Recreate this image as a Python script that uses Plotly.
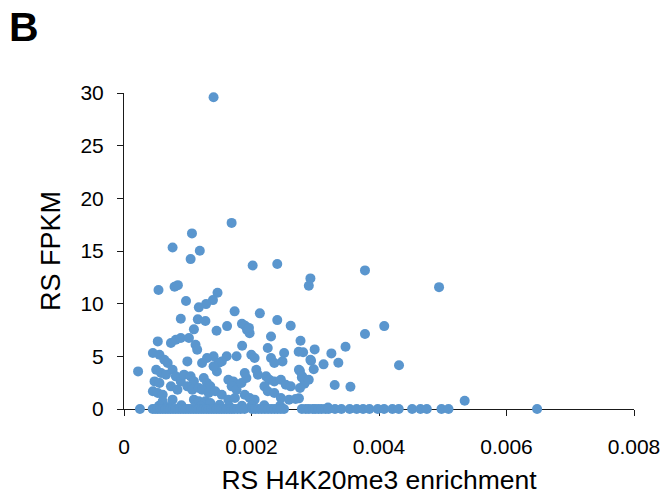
import plotly.graph_objects as go

# RS H4K20me3 enrichment (x) versus RS FPKM (y), one marker per gene
enrich_pos = [
    0.001405, 0.001688, 0.001066, 0.000762, 0.001189, 0.001045, 0.002018, 0.002404,
    0.002924, 0.002899, 0.000541, 0.000793, 0.000845, 0.000973, 0.001467, 0.001395,
    0.001287, 0.001174, 0.000891, 0.001158, 0.001277, 0.001735, 0.002131, 0.002404,
    0.002615, 0.001097, 0.001452, 0.001617, 0.001850, 0.001900, 0.001930, 0.001970,
    0.001960, 0.003780, 0.004942, 0.004082, 0.003780, 0.003475, 0.003253, 0.002991,
    0.002769, 0.002810, 0.002740, 0.002934, 0.003130, 0.003362, 0.002976, 0.002760,
    0.002790, 0.002830, 0.002760, 0.004314, 0.003305, 0.003552, 0.002744, 0.005344,
    0.000221, 0.000530, 0.000736, 0.000813, 0.000891, 0.001019, 0.001122, 0.001148,
    0.000453, 0.000556, 0.001853, 0.002255, 0.001997, 0.002049, 0.002512, 0.001766,
    0.001611, 0.001534, 0.001405, 0.001302, 0.001225, 0.000994, 0.000633, 0.000685,
    0.000505, 0.000582, 0.000659, 0.000479, 0.000556, 0.000453, 0.000530, 0.000607,
    0.000762, 0.000813, 0.000891, 0.000736, 0.000839, 0.000942, 0.001045, 0.001097,
    0.000994, 0.001071, 0.001174, 0.001251, 0.001302, 0.001354, 0.001457, 0.001483,
    0.001405, 0.001225, 0.001328, 0.001431, 0.001534, 0.001637, 0.001714, 0.001689,
    0.001766, 0.001637, 0.001740, 0.001843, 0.001920, 0.001894, 0.002075, 0.002100,
    0.002229, 0.002281, 0.002358, 0.002461, 0.002538, 0.002615, 0.002203, 0.002255,
    0.002358, 0.002306, 0.002358, 0.002486, 0.001894, 0.001972, 0.002049, 0.002461,
    0.002589, 0.002692, 0.002744, 0.002795, 0.002898, 0.002924, 0.000607, 0.000762,
    0.001097, 0.001174, 0.001277, 0.001354, 0.002306, 0.000550, 0.000900, 0.001200,
    0.001500, 0.001850, 0.002200, 0.002450, 0.003200, 0.000700, 0.001650, 0.002000,
]
fpkm_pos = [
    29.60, 17.67, 16.67, 15.34, 15.02, 14.23, 13.63, 13.76,
    12.40, 11.70, 11.29, 11.60, 11.76, 10.25, 11.03, 10.34,
    9.96, 9.65, 8.57, 8.51, 8.35, 9.27, 9.08, 8.44,
    7.90, 7.56, 7.43, 7.87, 8.10, 7.90, 7.50, 7.20,
    7.70, 13.16, 11.57, 7.87, 7.12, 5.91, 5.28, 5.66,
    6.48, 5.38, 5.44, 4.58, 4.24, 4.39, 3.77, 3.60,
    3.00, 2.40, 2.00, 4.15, 2.28, 2.12, 1.01, 0.79,
    3.57, 6.42, 6.26, 6.58, 6.74, 6.74, 6.10, 5.63,
    5.31, 5.15, 6.01, 5.79, 5.15, 4.84, 5.31, 5.00,
    5.00, 4.52, 5.00, 4.84, 4.36, 4.52, 4.68, 4.36,
    3.73, 3.42, 3.26, 2.62, 2.47, 1.68, 1.52, 1.36,
    3.73, 3.10, 2.62, 2.15, 1.83, 3.26, 3.10, 2.62,
    2.15, 1.83, 1.99, 2.94, 2.47, 2.15, 3.57, 4.36,
    4.05, 1.83, 1.52, 1.68, 1.36, 2.78, 2.62, 2.15,
    1.83, 0.89, 1.04, 2.47, 2.94, 3.42, 3.73, 3.26,
    3.10, 2.78, 2.62, 2.78, 2.31, 2.15, 2.15, 1.68,
    1.52, 4.84, 4.36, 4.52, 1.36, 1.04, 0.89, 1.04,
    0.89, 0.95, 3.73, 3.10, 2.78, 4.68, 0.73, 0.89,
    0.89, 0.73, 0.73, 0.57, 6.89, 0.30, 0.35, 0.25,
    0.40, 0.30, 0.35, 0.30, 0.15, 0.20, 0.25, 0.30,
]

# genes with no detectable expression
enrich_zero = [
    0.000250, 0.000450, 0.000490, 0.000530, 0.000570, 0.000610, 0.000650, 0.000690,
    0.000730, 0.000770, 0.000810, 0.000850, 0.000890, 0.000930, 0.000970, 0.001010,
    0.001050, 0.001090, 0.001130, 0.001170, 0.001210, 0.001250, 0.001290, 0.001330,
    0.001370, 0.001410, 0.001450, 0.001490, 0.001530, 0.001570, 0.001610, 0.001650,
    0.001690, 0.001730, 0.001780, 0.001830, 0.001890, 0.002010, 0.002060, 0.002110,
    0.002160, 0.002210, 0.002260, 0.002310, 0.002360, 0.002410, 0.002460, 0.002510,
    0.002790, 0.002850, 0.002900, 0.002960, 0.003000, 0.003050, 0.003100, 0.003160,
    0.003210, 0.003310, 0.003410, 0.003540, 0.003650, 0.003750, 0.003850, 0.003980,
    0.004080, 0.004210, 0.004310, 0.004520, 0.004650, 0.004750, 0.004980, 0.005090,
    0.006480,
]
fpkm_zero = [0.0] * len(enrich_zero)

x_vals = enrich_pos + enrich_zero
y_vals = fpkm_pos + fpkm_zero

x_ticks = [0, 0.002, 0.004, 0.006, 0.008]
x_tick_text = ["0", "0.002", "0.004", "0.006", "0.008"]
y_ticks = [0, 5, 10, 15, 20, 25, 30]

FONT = "Liberation Sans, Arial, sans-serif"
DOT = "#5A96CE"

fig = go.Figure(
    go.Scatter(
        x=x_vals,
        y=y_vals,
        mode="markers",
        marker=dict(size=10, color=DOT, line=dict(width=0)),
        cliponaxis=False,
        hoverinfo="x+y",
    )
)

axis_common = dict(
    showgrid=False,
    zeroline=False,
    showline=True,
    linecolor="#1a1a1a",
    linewidth=1,
    ticks="outside",
    ticklen=6,
    tickwidth=1,
    tickcolor="#1a1a1a",
    tickfont=dict(family=FONT, size=21, color="#000"),
    layer="below traces",
)

fig.update_layout(
    width=672,
    height=503,
    margin=dict(l=124, r=30, t=93, b=94),
    paper_bgcolor="white",
    plot_bgcolor="white",
    showlegend=False,
    font=dict(family=FONT, color="#000"),
    xaxis=dict(
        range=[0, 0.008],
        tickvals=x_ticks,
        ticktext=x_tick_text,
        ticklabelstandoff=13,
        title=dict(text="RS H4K20me3 enrichment",
                   font=dict(family=FONT, size=26.5, color="#000"), standoff=13),
        **axis_common,
    ),
    yaxis=dict(
        range=[0, 30],
        tickvals=y_ticks,
        ticklabelstandoff=9,
        title=dict(text="RS FPKM",
                   font=dict(family=FONT, size=27, color="#000"), standoff=11),
        **axis_common,
    ),
    annotations=[
        dict(
            text="<b>B</b>",
            xref="paper", yref="paper",
            x=-0.229, y=1.208,
            xanchor="left", yanchor="middle",
            showarrow=False,
            font=dict(family=FONT, size=41, color="#000"),
        )
    ],
)

fig.write_html("out.html")
